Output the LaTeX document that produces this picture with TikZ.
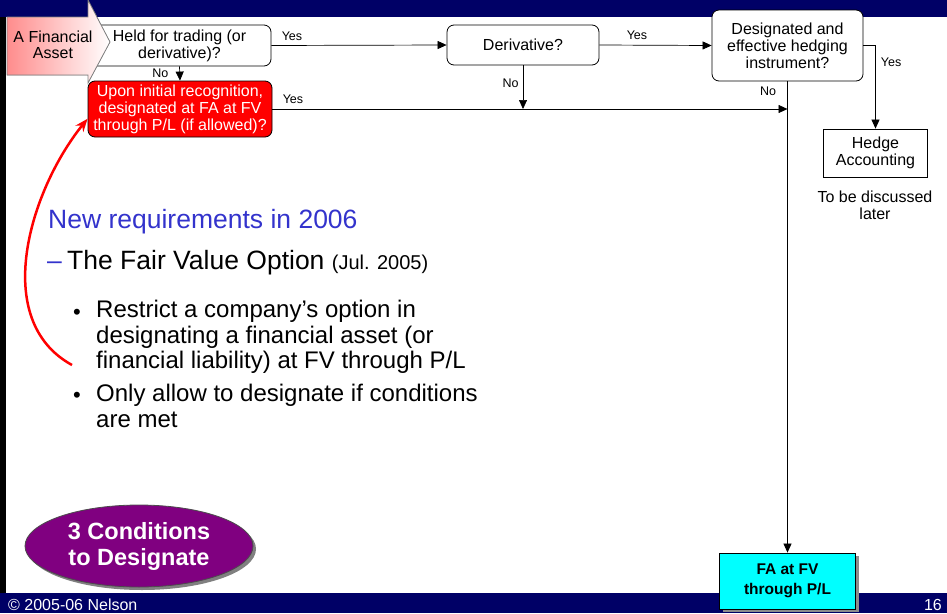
\documentclass[tikz,border=0pt]{standalone}
\usepackage{fontspec}
\setmainfont{Liberation Sans}
\usetikzlibrary{arrows.meta,shapes.geometric,shadows}
\definecolor{slidenavy}{RGB}{0,0,102}
\definecolor{titleblue}{RGB}{51,51,204}
\definecolor{ovalpurple}{RGB}{128,0,128}
\definecolor{fvcyan}{RGB}{0,255,255}
\definecolor{askred}{RGB}{255,0,0}

\begin{document}
\begin{tikzpicture}[x=1pt, y=-1pt,
    qbox/.style={draw, line width=0.8pt, rounded corners=7pt, fill=white, align=center,
                 inner sep=0pt, font=\fontsize{16}{17}\selectfont},
    yn/.style={font=\fontsize{12.5}{13}\selectfont, inner xsep=1pt, inner ysep=5pt},
    flow/.style={-{Triangle[length=9pt,width=8pt]}, line width=0.7pt},
    body/.style={font=\fontsize{24}{25.5}\selectfont, align=left, inner sep=0pt},
    dot/.style={font=\fontsize{22}{24}\selectfont, inner sep=0pt, anchor=base}]
    \useasboundingbox (0,0) rectangle (947,613);
    % slide frame
    \fill[slidenavy] (0,0) rectangle (947,17);
    \fill[slidenavy] (0,593) rectangle (947,613);
    \fill[black] (0,17) rectangle (6,593);
    \node[white, anchor=west, font=\fontsize{16}{17}\selectfont, inner sep=0pt] (copy) at (8,605) {© 2005-06 Nelson};
    \node[white, anchor=east, font=\fontsize{16}{17}\selectfont, inner sep=0pt] (pageno) at (942,605) {16};

    % decision boxes
    \node[qbox, minimum width=183, minimum height=41] (held) at (179.5,45.5) {Held for trading (or\\derivative)?};
    \node[qbox, fill=askred, text=white, minimum width=184, minimum height=56] (init) at (180,109)
        {Upon initial recognition,\\designated at FA at FV\\through P/L (if allowed)?};
    \node[qbox, minimum width=152, minimum height=40] (deriv) at (523,45) {Derivative?};
    \node[qbox, minimum width=151, minimum height=71] (hedgeq) at (787.5,45.5) {Designated and\\effective hedging\\instrument?};
    \node[draw, line width=0.8pt, align=center, inner sep=0pt, minimum width=104, minimum height=48,
          font=\fontsize{16}{17}\selectfont] (hedge) at (875.5,153) {Hedge\\Accounting};
    \node[align=center, inner sep=0pt, font=\fontsize{16}{17}\selectfont] (later) at (875,205) {To be discussed\\later};
    \node[draw, fill=fvcyan, line width=0.8pt, minimum width=136, minimum height=56, align=center,
          font=\bfseries\fontsize{15.5}{19.5}\selectfont,
          drop shadow={shadow xshift=3pt, shadow yshift=-3pt, fill=black!45, opacity=1}] (fvpl) at (787.5,581) {FA at FV\\through P/L};

    % the starting arrow
    \filldraw[draw=gray, line width=0.8pt, left color=red!45, right color=white]
        (7,17) -- (88,17) -- (88,0) -- (110,42) -- (88,83) -- (88,75) -- (7,75) -- cycle;
    \node[align=center, inner sep=0pt, font=\fontsize{16}{16.5}\selectfont] (fasset) at (53,45) {A Financial\\Asset};

    % connectors
    \draw[flow] (held.east) -- node[yn, pos=0, anchor=south west, xshift=9pt] {Yes} (deriv.west);
    \draw[flow] (deriv.east) -- node[yn, pos=0, anchor=south west, xshift=26pt] {Yes} (hedgeq.west);
    \draw[flow] (hedgeq.east) -| node[yn, pos=0.6, anchor=west, xshift=4pt] {Yes} (hedge.north);
    \draw[flow] (held.south) -- node[yn, anchor=east, xshift=-10pt] {No} (init.north);
    \draw[flow] (init.east) -- node[yn, pos=0, anchor=south west, xshift=9pt] {Yes} (hedgeq.south |- init.east);
    \draw[flow] (deriv.south) -- node[yn, pos=0.41, anchor=east, xshift=-3pt] {No} (deriv.south |- init.east);
    \draw[flow] (hedgeq.south) -- node[yn, pos=0.021, anchor=east, xshift=-10pt] {No} (fvpl.north);

    % new requirements
    \coordinate (curvestart) at (72,365);
    \draw[askred, line width=2.5pt, -{Stealth[length=13pt,width=10pt]}]
        (curvestart) .. controls (-10,320) and (30,190) .. (init.186);
    \node[anchor=west, text=titleblue, font=\fontsize{26.5}{28}\selectfont, inner sep=0pt] (newreq) at (48,222) {New requirements in 2006};
    \node[anchor=west, font=\fontsize{26.5}{28}\selectfont, inner sep=0pt] (fvo) at (47,263)
        {\textcolor{titleblue}{–}\hspace{0.2em}The Fair Value Option {\fontsize{20}{22}\selectfont (Jul. 2005)}};
    \node[dot] (dotA) at (77,319) {•};
    \node[body, anchor=west] (restrict) at (96,337) {Restrict a company’s option in\\designating a financial asset (or\\financial liability) at FV through P/L};
    \node[dot] (dotB) at (77,402) {•};
    \node[body, anchor=west] (onlyallow) at (96,406) {Only allow to designate if conditions\\are met};

    \node[ellipse, draw=black!70, line width=0.8pt, fill=ovalpurple, text=white, minimum width=228, minimum height=82,
          drop shadow={shadow xshift=3pt, shadow yshift=-3pt, fill=black!50, opacity=1}, align=center,
          font=\bfseries\fontsize{23.5}{26}\selectfont, inner sep=0pt] (conds) at (139,546) {3 Conditions\\to Designate};
\end{tikzpicture}
\end{document}
